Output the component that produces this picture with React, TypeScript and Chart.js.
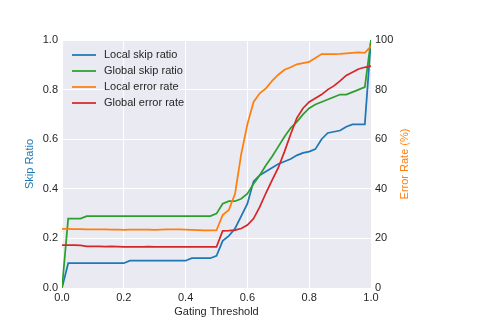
import React, { useEffect, useRef } from 'react';
import { Chart, registerables } from 'chart.js';

Chart.register(...registerables);

const thresholds = [
  0.0, 0.02, 0.04, 0.06, 0.08, 0.1, 0.12, 0.14, 0.16, 0.18,
  0.2, 0.22, 0.24, 0.26, 0.28, 0.3, 0.32, 0.34, 0.36, 0.38,
  0.4, 0.42, 0.44, 0.46, 0.48, 0.5, 0.52, 0.54, 0.56, 0.58,
  0.6, 0.62, 0.64, 0.66, 0.68, 0.7, 0.72, 0.74, 0.76, 0.78,
  0.8, 0.82, 0.84, 0.86, 0.88, 0.9, 0.92, 0.94, 0.96, 0.98, 1.0,
];

const localSkip = [
  0.0, 0.1, 0.1, 0.1, 0.1, 0.1, 0.1, 0.1, 0.1, 0.1,
  0.1, 0.11, 0.11, 0.11, 0.11, 0.11, 0.11, 0.11, 0.11, 0.11,
  0.11, 0.12, 0.12, 0.12, 0.12, 0.13, 0.19, 0.21, 0.24, 0.29,
  0.34, 0.43, 0.455, 0.47, 0.485, 0.5, 0.51, 0.52, 0.535, 0.545,
  0.55, 0.56, 0.6, 0.625, 0.63, 0.635, 0.65, 0.66, 0.66, 0.66, 1.0,
];

const globalSkip = [
  0.0, 0.28, 0.28, 0.28, 0.29, 0.29, 0.29, 0.29, 0.29, 0.29,
  0.29, 0.29, 0.29, 0.29, 0.29, 0.29, 0.29, 0.29, 0.29, 0.29,
  0.29, 0.29, 0.29, 0.29, 0.29, 0.3, 0.34, 0.35, 0.35, 0.36,
  0.38, 0.42, 0.455, 0.495, 0.53, 0.57, 0.61, 0.645, 0.67, 0.7,
  0.725, 0.74, 0.75, 0.76, 0.77, 0.78, 0.78, 0.79, 0.8, 0.81, 1.0,
];

const localError = [
  23.8, 23.8, 23.7, 23.7, 23.6, 23.6, 23.6, 23.6, 23.5, 23.5,
  23.4, 23.5, 23.5, 23.5, 23.5, 23.4, 23.5, 23.6, 23.6, 23.6,
  23.5, 23.4, 23.3, 23.2, 23.2, 23.3, 29.4, 31.5, 38.0, 54.0,
  66.0, 75.0, 78.5, 80.5, 83.5, 86.0, 88.0, 89.0, 90.2, 90.7,
  91.2, 92.7, 94.3, 94.3, 94.3, 94.4, 94.6, 94.8, 95.0, 94.8, 97.5,
];

const globalError = [
  17.3, 17.3, 17.3, 17.2, 16.8, 16.8, 16.8, 16.7, 16.8, 16.7,
  16.6, 16.6, 16.6, 16.6, 16.7, 16.6, 16.6, 16.6, 16.6, 16.6,
  16.6, 16.6, 16.6, 16.6, 16.6, 16.6, 23.0, 23.1, 23.3, 24.0,
  25.4, 28.0, 32.7, 38.3, 43.5, 48.5, 55.0, 62.0, 68.5, 72.5,
  75.0, 76.5, 78.0, 80.0, 81.5, 83.5, 85.7, 87.0, 88.3, 89.0, 89.5,
];

const seriesNames = ['Local skip ratio', 'Global skip ratio', 'Local error rate', 'Global error rate'];
const seriesColors = ['#1f77b4', '#2ca02c', '#ff7f0e', '#d62728'];
const xTicks = [0, 0.2, 0.4, 0.6, 0.8, 1.0];

const FONT = '"Liberation Sans", Arial, sans-serif';
const TEXT = '#262626';

const toPoints = (ys: number[]) => thresholds.map((x, i) => ({ x, y: ys[i] }));

const bgPlugin = {
  id: 'bgPlugin',
  beforeDraw(chart: any) {
    const { ctx, chartArea: a } = chart;
    ctx.save();
    ctx.fillStyle = '#EAEAF2';
    ctx.fillRect(a.left, a.top, a.right - a.left, a.bottom - a.top);
    ctx.restore();
  },
};

const overlayPlugin = {
  id: 'overlayPlugin',
  afterDraw(chart: any) {
    const { ctx } = chart;
    ctx.save();
    ctx.font = `11px ${FONT}`;
    ctx.textBaseline = 'middle';
    ctx.textAlign = 'left';
    seriesNames.forEach((name, i) => {
      const y = 55 + i * 16;
      ctx.strokeStyle = seriesColors[i];
      ctx.lineWidth = 1.75;
      ctx.beginPath();
      ctx.moveTo(72, y);
      ctx.lineTo(96, y);
      ctx.stroke();
      ctx.fillStyle = TEXT;
      ctx.fillText(name, 104, y);
    });
    // right axis title, reading bottom-to-top
    ctx.translate(405, 164);
    ctx.rotate(-Math.PI / 2);
    ctx.textAlign = 'center';
    ctx.fillStyle = '#ff7f0e';
    ctx.fillText('Error Rate (%)', 0, 0);
    ctx.restore();
  },
};

export default function App() {
  const ref = useRef<HTMLCanvasElement | null>(null);

  useEffect(() => {
    if (!ref.current) return;
    Chart.defaults.font.family = FONT;
    const chart = new Chart(ref.current, {
      type: 'line',
      data: {
        datasets: [
          { label: seriesNames[0], data: toPoints(localSkip), yAxisID: 'y', borderColor: seriesColors[0], order: 4 },
          { label: seriesNames[1], data: toPoints(globalSkip), yAxisID: 'y', borderColor: seriesColors[1], order: 3 },
          { label: seriesNames[2], data: toPoints(localError), yAxisID: 'y2', borderColor: seriesColors[2], order: 2 },
          { label: seriesNames[3], data: toPoints(globalError), yAxisID: 'y2', borderColor: seriesColors[3], order: 1 },
        ].map((d) => ({ ...d, borderWidth: 1.75, pointRadius: 0, fill: false, tension: 0 })),
      },
      options: {
        animation: false,
        responsive: false,
        devicePixelRatio: 1,
        layout: { padding: { top: 40, left: 0, right: 0, bottom: 0 } },
        plugins: { legend: { display: false }, tooltip: { enabled: false } },
        scales: {
          x: {
            type: 'linear',
            min: 0,
            max: 1,
            afterBuildTicks: (s: any) => { s.ticks = xTicks.map((v) => ({ value: v })); },
            afterFit: (s: any) => { s.height = 42; },
            border: { display: false },
            grid: { color: '#ffffff', lineWidth: 1, drawTicks: false },
            ticks: { padding: 3, color: TEXT, font: { size: 11 }, callback: (v: any) => Number(v).toFixed(1) },
            title: { display: true, text: 'Gating Threshold', color: TEXT, font: { size: 11 }, padding: { top: 0, bottom: 11 } },
          },
          y: {
            type: 'linear',
            position: 'left',
            min: 0,
            max: 1,
            afterFit: (s: any) => { s.width = 62; },
            border: { display: false },
            grid: { color: '#ffffff', lineWidth: 1, drawTicks: false },
            ticks: { stepSize: 0.2, padding: 4, color: TEXT, font: { size: 11 }, callback: (v: any) => Number(v).toFixed(1) },
            title: { display: true, text: 'Skip Ratio', color: '#1f77b4', font: { size: 11 }, padding: { top: 23, bottom: 0 } },
          },
          y2: {
            type: 'linear',
            position: 'right',
            min: 0,
            max: 100,
            afterFit: (s: any) => { s.width = 124; },
            border: { display: false },
            grid: { display: false, drawTicks: false },
            ticks: { stepSize: 20, padding: 4, color: TEXT, font: { size: 11 }, callback: (v: any) => String(Math.round(Number(v))) },
          },
        },
      },
      plugins: [bgPlugin, overlayPlugin],
    } as any);
    return () => chart.destroy();
  }, []);

  return (
    <div style={{ position: 'fixed', left: 0, top: 0, width: 495, height: 330, background: '#ffffff' }}>
      <canvas ref={ref} width={495} height={330} style={{ width: 495, height: 330, display: 'block' }} />
    </div>
  );
}
